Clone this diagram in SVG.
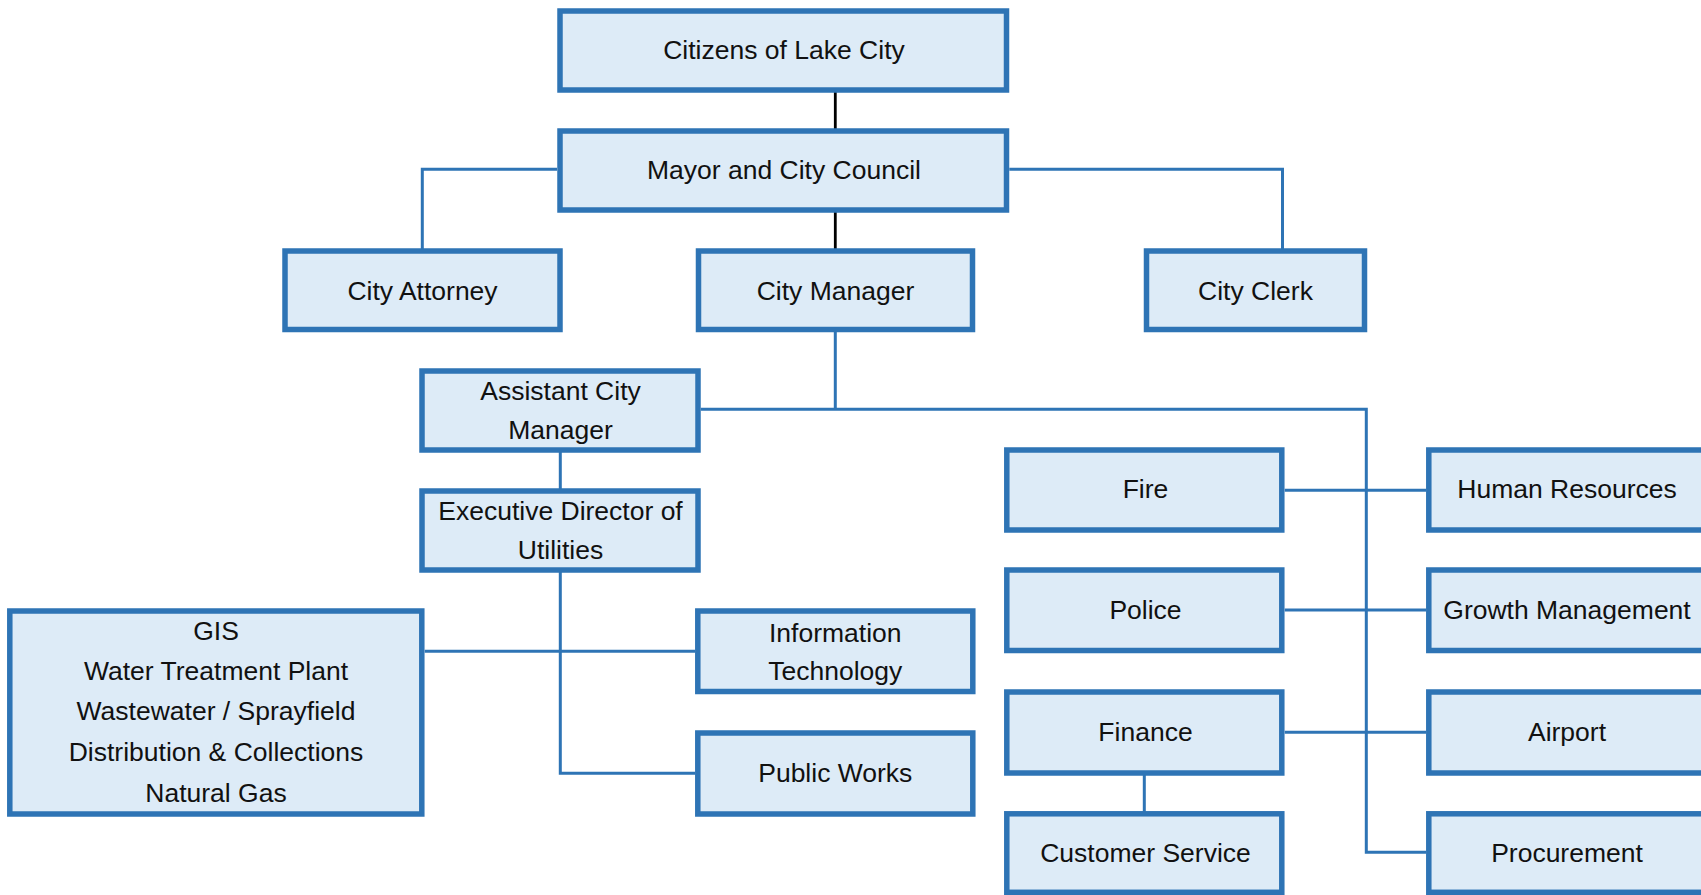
<svg xmlns="http://www.w3.org/2000/svg" width="1701" height="895" viewBox="0 0 1701 895">
  <style>
    .box { fill: #DDEBF7; stroke: #2E74B5; stroke-width: 5.5; }
    .lbl { font-family: "Liberation Sans", Arial, sans-serif; font-size: 26.5px; fill: #111111; text-anchor: middle; }
    .conn { fill: none; stroke: #2E74B5; stroke-width: 3; }
    .blk { fill: none; stroke: #000000; stroke-width: 2.8; }
  </style>
  <rect x="0" y="0" width="1701" height="895" fill="#FFFFFF"/>

  <g id="connectors">
    <path class="blk" d="M835.3,92 V129"/>
    <path class="blk" d="M835.3,212 V249"/>
    <path class="conn" d="M557,169.3 H422.3 V249"/>
    <path class="conn" d="M1009.3,169.3 H1282.5 V249"/>
    <path class="conn" d="M835.3,332 V409.3"/>
    <path class="conn" d="M700.7,409.3 H1366.3 V852.3 H1426"/>
    <path class="conn" d="M560.3,452 V489"/>
    <path class="conn" d="M560.3,572 V773.3 H695"/>
    <path class="conn" d="M424.7,651.3 H695"/>
    <path class="conn" d="M1284.7,490.3 H1426"/>
    <path class="conn" d="M1284.7,610 H1426"/>
    <path class="conn" d="M1284.7,732.3 H1426"/>
    <path class="conn" d="M1144.3,775 V812"/>
  </g>

  <g id="citizens">
    <rect class="box" x="560" y="11" width="446.5" height="79"/>
    <text class="lbl" x="784" y="59.3">Citizens of Lake City</text>
  </g>
  <g id="mayor">
    <rect class="box" x="560" y="131" width="446.5" height="79"/>
    <text class="lbl" x="784" y="179.3">Mayor and City Council</text>
  </g>
  <g id="city-attorney">
    <rect class="box" x="285" y="251" width="275" height="78.5"/>
    <text class="lbl" x="422.5" y="299.5">City Attorney</text>
  </g>
  <g id="city-manager">
    <rect class="box" x="698.5" y="251" width="274" height="78.5"/>
    <text class="lbl" x="835.5" y="299.5">City Manager</text>
  </g>
  <g id="city-clerk">
    <rect class="box" x="1146.5" y="251" width="218" height="78.5"/>
    <text class="lbl" x="1255.5" y="299.5">City Clerk</text>
  </g>
  <g id="assistant-city-manager">
    <rect class="box" x="422" y="371" width="276" height="79"/>
    <text class="lbl" x="560.5" y="400">Assistant City</text>
    <text class="lbl" x="560.5" y="439">Manager</text>
  </g>
  <g id="exec-director">
    <rect class="box" x="422" y="491" width="276" height="79"/>
    <text class="lbl" x="560.5" y="520">Executive Director of</text>
    <text class="lbl" x="560.5" y="559">Utilities</text>
  </g>
  <g id="utilities-divisions">
    <rect class="box" x="9.8" y="611" width="412" height="203"/>
    <text class="lbl" x="216" y="640">GIS</text>
    <text class="lbl" x="216" y="680">Water Treatment Plant</text>
    <text class="lbl" x="216" y="720">Wastewater / Sprayfield</text>
    <text class="lbl" x="216" y="761">Distribution &amp; Collections</text>
    <text class="lbl" x="216" y="801.5">Natural Gas</text>
  </g>
  <g id="information-technology">
    <rect class="box" x="697.8" y="611" width="275" height="80.5"/>
    <text class="lbl" x="835.3" y="641.5">Information</text>
    <text class="lbl" x="835.3" y="680">Technology</text>
  </g>
  <g id="public-works">
    <rect class="box" x="697.8" y="733" width="275" height="81"/>
    <text class="lbl" x="835.3" y="781.5">Public Works</text>
  </g>
  <g id="fire">
    <rect class="box" x="1006.8" y="450" width="275" height="80"/>
    <text class="lbl" x="1145.5" y="497.7">Fire</text>
  </g>
  <g id="police">
    <rect class="box" x="1006.8" y="570" width="275" height="80.5"/>
    <text class="lbl" x="1145.5" y="619">Police</text>
  </g>
  <g id="finance">
    <rect class="box" x="1006.8" y="692" width="275" height="81"/>
    <text class="lbl" x="1145.5" y="741.3">Finance</text>
  </g>
  <g id="customer-service">
    <rect class="box" x="1006.8" y="813.8" width="275" height="78.5"/>
    <text class="lbl" x="1145.5" y="862.3">Customer Service</text>
  </g>
  <g id="human-resources">
    <rect class="box" x="1428.8" y="450" width="276" height="80"/>
    <text class="lbl" x="1567" y="497.7">Human Resources</text>
  </g>
  <g id="growth-management">
    <rect class="box" x="1428.8" y="570" width="276" height="80.5"/>
    <text class="lbl" x="1567" y="618.5">Growth Management</text>
  </g>
  <g id="airport">
    <rect class="box" x="1428.8" y="692" width="276" height="81"/>
    <text class="lbl" x="1567" y="741.3">Airport</text>
  </g>
  <g id="procurement">
    <rect class="box" x="1428.8" y="813.8" width="276" height="78.5"/>
    <text class="lbl" x="1567" y="862.3">Procurement</text>
  </g>
</svg>
